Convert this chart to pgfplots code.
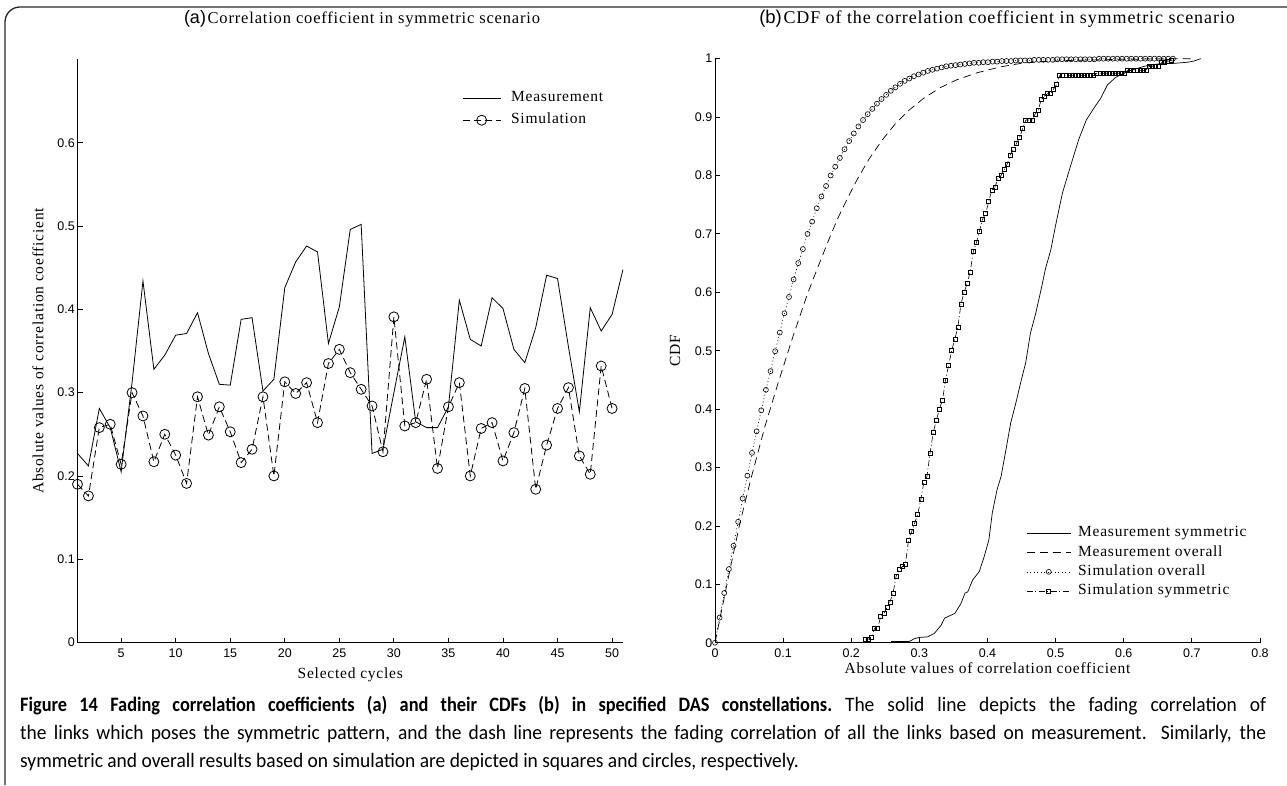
\documentclass[border=0pt]{standalone}
\usepackage{fontspec}
\usepackage{pgfplots}
\pgfplotsset{compat=1.18}
\usepackage{pgfplotstable}
\setmainfont{Liberation Serif}
\newfontfamily\serifls{Liberation Serif}[LetterSpace=5]
\newfontfamily\sansf{Liberation Sans}
\newfontfamily\capf{Carlito}[FakeStretch=0.95]
\newfontfamily\capfb{Carlito}[FakeStretch=0.895]

\pgfplotstableread{
x y
1 0.227
2 0.212
3 0.281
4 0.258
5 0.205
6 0.312
7 0.434
8 0.328
9 0.345
10 0.369
11 0.371
12 0.396
13 0.347
14 0.310
15 0.309
16 0.388
17 0.390
18 0.302
19 0.316
20 0.426
21 0.457
22 0.476
23 0.469
24 0.359
25 0.403
26 0.496
27 0.502
28 0.227
29 0.232
30 0.300
31 0.367
32 0.265
33 0.258
34 0.258
35 0.283
36 0.411
37 0.364
38 0.356
39 0.414
40 0.401
41 0.352
42 0.336
43 0.378
44 0.441
45 0.437
46 0.355
47 0.277
48 0.402
49 0.374
50 0.394
51 0.448
}\measA

\pgfplotstableread{
x y
1 0.190
2 0.176
3 0.258
4 0.262
5 0.214
6 0.300
7 0.272
8 0.217
9 0.250
10 0.225
11 0.191
12 0.295
13 0.249
14 0.283
15 0.253
16 0.216
17 0.232
18 0.295
19 0.200
20 0.313
21 0.299
22 0.312
23 0.264
24 0.335
25 0.352
26 0.324
27 0.304
28 0.284
29 0.229
30 0.391
31 0.260
32 0.264
33 0.316
34 0.209
35 0.283
36 0.312
37 0.200
38 0.257
39 0.264
40 0.218
41 0.252
42 0.305
43 0.184
44 0.237
45 0.281
46 0.306
47 0.224
48 0.202
49 0.332
50 0.281
}\simA

\pgfplotstableread{
x y
0.2585 0.002
0.285 0.002
0.293 0.007
0.300 0.009
0.312 0.010
0.322 0.016
0.332 0.030
0.337 0.042
0.346 0.047
0.352 0.050
0.361 0.067
0.367 0.085
0.371 0.087
0.378 0.107
0.388 0.122
0.395 0.147
0.402 0.176
0.407 0.222
0.414 0.262
0.420 0.285
0.427 0.330
0.434 0.376
0.4415 0.410
0.449 0.447
0.456 0.479
0.463 0.530
0.471 0.565
0.480 0.612
0.485 0.640
0.493 0.673
0.500 0.715
0.510 0.770
0.520 0.809
0.534 0.862
0.545 0.895
0.556 0.915
0.566 0.932
0.576 0.955
0.588 0.968
0.605 0.978
0.630 0.987
0.650 0.991
0.674 0.992
0.694 0.994
0.703 0.996
0.713 1.000
}\msym

\pgfplotstableread{
x y
0 0
0.010 0.057
0.022 0.125
0.0366 0.205
0.0537 0.285
0.0732 0.370
0.0927 0.445
0.1146 0.525
0.1366 0.600
0.150 0.640
0.167 0.690
0.180 0.726
0.194 0.760
0.210 0.796
0.226 0.828
0.245 0.860
0.265 0.889
0.285 0.912
0.306 0.932
0.330 0.950
0.355 0.964
0.385 0.976
0.419 0.986
0.449 0.992
0.480 0.995
0.520 0.997
0.560 0.998
0.600 0.999
0.650 0.9995
0.700 1.000
}\mov

\pgfplotstableread{
x y
0.0000 0.000
0.0068 0.043
0.0136 0.085
0.0204 0.126
0.0272 0.166
0.0340 0.207
0.0407 0.247
0.0475 0.286
0.0543 0.325
0.0611 0.362
0.0679 0.398
0.0747 0.433
0.0815 0.465
0.0883 0.499
0.0951 0.531
0.1019 0.564
0.1086 0.592
0.1154 0.622
0.1222 0.650
0.1290 0.674
0.1358 0.700
0.1426 0.721
0.1494 0.744
0.1562 0.764
0.1630 0.782
0.1698 0.800
0.1765 0.815
0.1833 0.830
0.1901 0.845
0.1969 0.859
0.2037 0.872
0.2105 0.884
0.2173 0.895
0.2241 0.905
0.2309 0.914
0.2377 0.923
0.2444 0.931
0.2512 0.938
0.2580 0.945
0.2648 0.951
0.2716 0.957
0.2784 0.962
0.2852 0.966
0.2920 0.970
0.2988 0.973
0.3056 0.976
0.3123 0.979
0.3191 0.981
0.3259 0.983
0.3327 0.985
0.3395 0.987
0.3463 0.988
0.3531 0.989
0.3599 0.990
0.3667 0.991
0.3735 0.992
0.3802 0.993
0.3870 0.993
0.3938 0.994
0.4006 0.994
0.4074 0.995
0.4142 0.995
0.4210 0.996
0.4278 0.996
0.4346 0.996
0.4414 0.997
0.4481 0.997
0.4549 0.997
0.4617 0.997
0.4685 0.998
0.4753 0.998
0.4821 0.998
0.4889 0.998
0.4957 0.998
0.5025 0.999
0.5093 0.999
0.5160 0.999
0.5228 0.999
0.5296 0.999
0.5364 0.999
0.5432 0.999
0.5500 0.999
0.5568 0.999
0.5636 1.000
0.5704 1.000
0.5772 1.000
0.5839 1.000
0.5907 1.000
0.5975 1.000
0.6043 1.000
0.6111 1.000
0.6179 1.000
0.6247 1.000
0.6315 1.000
0.6383 1.000
0.6451 1.000
0.6518 1.000
0.6586 1.000
0.6654 1.000
0.6722 1.000
}\sov

\pgfplotstableread{
x y
0.2206 0.006
0.2251 0.006
0.2297 0.010
0.2342 0.025
0.2387 0.025
0.2433 0.045
0.2478 0.050
0.2523 0.060
0.2568 0.070
0.2614 0.085
0.2659 0.114
0.2704 0.125
0.2750 0.130
0.2795 0.135
0.2840 0.175
0.2886 0.190
0.2931 0.205
0.2976 0.220
0.3021 0.245
0.3067 0.275
0.3112 0.285
0.3157 0.325
0.3203 0.360
0.3248 0.380
0.3293 0.400
0.3339 0.415
0.3384 0.450
0.3429 0.475
0.3474 0.500
0.3520 0.520
0.3565 0.540
0.3610 0.580
0.3656 0.600
0.3701 0.615
0.3746 0.635
0.3792 0.670
0.3837 0.685
0.3882 0.705
0.3927 0.725
0.3973 0.735
0.4018 0.755
0.4063 0.775
0.4109 0.780
0.4154 0.795
0.4199 0.800
0.4245 0.810
0.4290 0.820
0.4335 0.835
0.4380 0.845
0.4426 0.855
0.4471 0.865
0.4516 0.880
0.4562 0.895
0.4607 0.895
0.4652 0.895
0.4698 0.905
0.4743 0.911
0.4788 0.930
0.4833 0.936
0.4879 0.940
0.4924 0.940
0.4969 0.948
0.5015 0.956
0.5060 0.971
0.5105 0.971
0.5151 0.971
0.5196 0.971
0.5241 0.971
0.5286 0.971
0.5332 0.971
0.5377 0.971
0.5422 0.971
0.5468 0.971
0.5513 0.971
0.5558 0.971
0.5604 0.975
0.5649 0.975
0.5694 0.975
0.5739 0.975
0.5785 0.975
0.5830 0.975
0.5875 0.975
0.5921 0.975
0.5966 0.975
0.6011 0.975
0.6057 0.980
0.6102 0.980
0.6147 0.980
0.6192 0.980
0.6238 0.980
0.6283 0.980
0.6328 0.980
0.6374 0.987
0.6419 0.987
0.6464 0.987
0.6510 0.987
0.6555 0.993
0.6600 0.993
0.6645 0.995
0.6691 0.997
}\ssym

\pgfplotsset{
  myaxis/.style={
    scale only axis,
    axis lines*=left,
    axis line style={-, line width=0.8pt, black},
    tick align=inside,
    major tick length=5pt,
    tick style={line width=0.8pt, black},
    tick label style={font=\sansf\fontsize{12.5}{14}\selectfont},
    /pgf/number format/assume math mode=true,
    xticklabel style={inner sep=0pt, yshift=-6pt},
    yticklabel style={inner sep=0pt, xshift=-2.5pt},
    label style={font=\serifls\fontsize{15.5}{17}\selectfont},
    legend cell align=left,
    legend style={draw=none, fill=none, inner sep=0pt,
      font=\serifls\fontsize{15.5}{17}\selectfont,
      nodes={inner sep=1pt, text height=11pt, text depth=4pt}},
  }
}

\begin{document}
\begin{tikzpicture}[x=1pt,y=1pt]
\useasboundingbox (0,0) rectangle (1287,785);
% frame
\draw[line width=1.3pt, black!85] (1287,778) -- (20,778) arc[start angle=90, end angle=180, radius=15] -- (5,0);

% titles
\node[anchor=center, inner sep=0pt] at (362,766) {{\sansf\fontsize{18}{20}\selectfont (a)}\,{\serifls\fontsize{16.5}{19}\selectfont Correlation coefficient in symmetric scenario}};
\node[anchor=center, inner sep=0pt] at (997,766) {{\sansf\fontsize{18.5}{20}\selectfont (b)}\,{\serifls\fontsize{18}{20}\selectfont CDF of the correlation coefficient in symmetric scenario}};

% left axis
\begin{axis}[myaxis,
  at={(77.5pt,142.5pt)}, anchor=south west,
  width=545.5pt, height=583pt,
  xmin=1, xmax=51, ymin=0, ymax=0.7,
  xtick={5,10,15,20,25,30,35,40,45,50},
  xticklabels={5,10,15,20,25,30,35,40,45,50},
  ytick={0,0.1,0.2,0.3,0.4,0.5,0.6},
  yticklabels={0,0.1,0.2,0.3,0.4,0.5,0.6},
  xlabel={Selected cycles},
  ylabel={Absolute values of correlation coefficient},
  xlabel style={at={(axis description cs:0.5,-0.0557)}, anchor=center},
  ylabel style={at={(axis description cs:-0.0724,0.5)}, anchor=center},
  legend image code/.code={\draw[mark repeat=2,mark phase=2,#1] plot coordinates {(0pt,0pt) (19pt,0pt) (38pt,0pt)};},
  legend style={at={(axis description cs:0.705,0.9485)}, anchor=north west, row sep=5pt,
    /tikz/every odd column/.append style={column sep=9pt}},
]
\addplot[black, line width=0.8pt] table[x=x,y=y] {\measA};
\addplot[black, line width=0.8pt, dash pattern=on 7pt off 4pt, mark=o, mark size=5pt, mark options={solid, line width=0.8pt}] table[x=x,y=y] {\simA};
\legend{Measurement, Simulation}
\end{axis}

% right axis
\begin{axis}[myaxis,
  at={(715pt,142.3pt)}, anchor=south west,
  width=545pt, height=584pt,
  xmin=0, xmax=0.8, ymin=0, ymax=1,
  xtick={0,0.1,0.2,0.3,0.4,0.5,0.6,0.7,0.8},
  xticklabels={0,0.1,0.2,0.3,0.4,0.5,0.6,0.7,0.8},
  ytick={0,0.1,0.2,0.3,0.4,0.5,0.6,0.7,0.8,0.9,1},
  yticklabels={0,0.1,0.2,0.3,0.4,0.5,0.6,0.7,0.8,0.9,1},
  xlabel={Absolute values of correlation coefficient},
  ylabel={CDF},
  xlabel style={at={(axis description cs:0.5,-0.0433)}, anchor=center},
  ylabel style={at={(axis description cs:-0.0734,0.5)}, anchor=center},
  legend image code/.code={\draw[mark repeat=2,mark phase=2,#1] plot coordinates {(0pt,0pt) (22pt,0pt) (44pt,0pt)};},
  legend style={at={(axis description cs:0.571,0.2024)}, anchor=north west, row sep=2.3pt,
    /tikz/every odd column/.append style={column sep=6pt}},
]
\addplot[black, line width=0.7pt] table[x=x,y=y] {\msym};
\addplot[black, line width=0.7pt, dash pattern=on 8pt off 5pt] table[x=x,y=y] {\mov};
\addplot[black, line width=0.6pt, dash pattern=on 1pt off 2.5pt, mark=o, mark size=2.5pt, mark options={solid, line width=0.6pt}] table[x=x,y=y] {\sov};
\addplot[black, line width=0.6pt, dash pattern=on 6pt off 2.5pt on 1pt off 2.5pt, mark=square, mark size=2pt, mark options={solid, line width=0.6pt}] table[x=x,y=y] {\ssym};
\legend{Measurement symmetric, Measurement overall, Simulation overall, Simulation symmetric}
\end{axis}

% caption
\node[anchor=base west, inner sep=0pt] at (20,74) {\fontsize{20.5}{22}\selectfont\makebox[1246pt][s]{\capfb\bfseries Figure 14 Fading correlation coefficients (a) and their CDFs (b) in specified DAS constellations.\capf\mdseries\ The solid line depicts the fading correlation of}};
\node[anchor=base west, inner sep=0pt] at (20,46) {\capf\fontsize{20.5}{22}\selectfont\makebox[1246pt][s]{the links which poses the symmetric pattern, and the dash line represents the fading correlation of all the links based on measurement. Similarly, the}};
\node[anchor=base west, inner sep=0pt] at (20,18) {\capf\fontsize{20.5}{22}\selectfont symmetric and overall results based on simulation are depicted in squares and circles, respectively.};
\end{tikzpicture}
\end{document}
